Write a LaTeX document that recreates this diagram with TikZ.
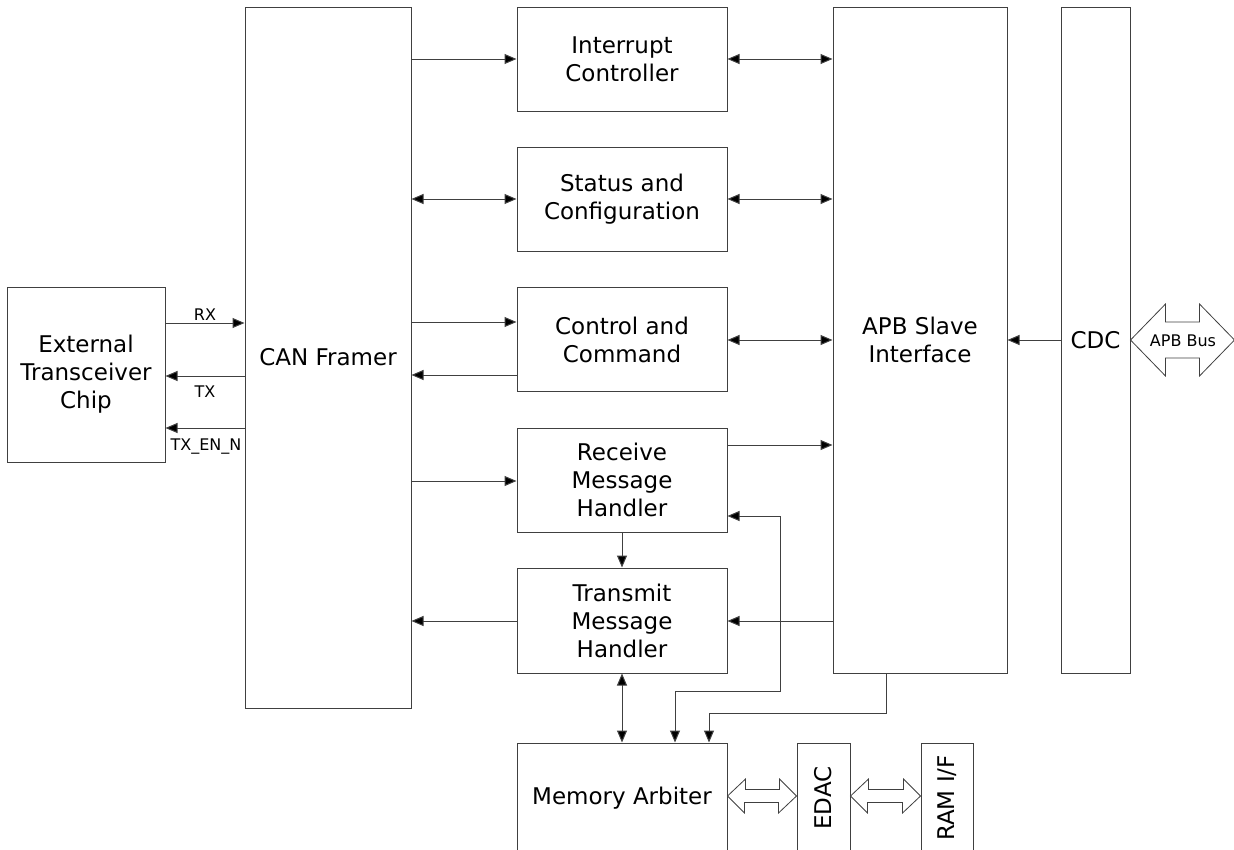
\documentclass[tikz,border=0pt]{standalone}
\usepackage{fontspec}
\setmainfont{DejaVu Sans}
\usetikzlibrary{arrows.meta,positioning,calc}

\begin{document}
\begin{tikzpicture}[x=1pt,y=-1pt,
    blk/.style={draw=black!75,line width=1pt,minimum width=210pt,minimum height=104pt,
      align=center,inner sep=0pt,font=\fontsize{23}{28}\selectfont},
    sig/.style={draw=black!75,line width=1pt,-{Triangle[length=12pt,width=10pt,fill=black]}},
    sig2/.style={sig,{Triangle[length=12pt,width=10pt,fill=black]}-{Triangle[length=12pt,width=10pt,fill=black]}},
    lbl/.style={font=\fontsize{16}{18}\selectfont,inner sep=2.5pt},
    fat/.style={draw=black!75,line width=0.8pt,fill=white}]
  \useasboundingbox (0,0) rectangle (1234,849);

  % blocks
  \node[blk,minimum width=158pt,minimum height=175pt] (ext) at (86,374.5) {External\\Transceiver\\Chip};
  \node[blk,minimum width=166pt,minimum height=701pt] (can) at (328,357.5) {CAN Framer};
  \node[blk] (intr) at (622,59) {Interrupt\\Controller};
  \node[blk] (stat) at (622,199) {Status and\\Configuration};
  \node[blk] (ctrl) at (622,339.5) {Control and\\Command};
  \node[blk] (recv) at (622,480) {Receive\\Message\\Handler};
  \node[blk,minimum height=105pt] (xmit) at (622,620.5) {Transmit\\Message\\Handler};
  \node[blk,minimum height=110pt] (marb) at (622,798) {Memory Arbiter};
  \node[blk,minimum width=174pt,minimum height=666pt] (apb) at (920,340) {APB Slave\\Interface};
  \node[blk,minimum width=69pt,minimum height=666pt] (cdc) at (1095.5,340) {CDC};
  \node[blk,minimum width=53pt,minimum height=110pt] (edac) at (823.5,798) {\rotatebox{90}{EDAC}};
  \node[blk,minimum width=52pt,minimum height=110pt] (ram) at (947,798) {\rotatebox{90}{RAM I/F}};

  % transceiver signals
  \draw[sig] (ext.east |- 0,323) -- node[lbl,above] {RX} (can.west |- 0,323);
  \draw[sig] (can.west |- 0,376) -- node[lbl,below,yshift=-7pt] {TX} (ext.east |- 0,376);
  \draw[sig] (can.west |- 0,428) -- node[lbl,below,xshift=1pt,yshift=-8pt] {TX\_EN\_N} (ext.east |- 0,428);

  % framer side
  \draw[sig] (can.east |- intr) -- (intr.west);
  \draw[sig2] (can.east |- stat) -- (stat.west);
  \draw[sig] (can.east |- 0,322) -- (ctrl.west |- 0,322);
  \draw[sig] (ctrl.west |- 0,375) -- (can.east |- 0,375);
  \draw[sig] (can.east |- 0,481) -- (recv.west |- 0,481);
  \draw[sig] (xmit.west |- 0,621) -- (can.east |- 0,621);

  % slave side
  \draw[sig2] (intr.east) -- (apb.west |- intr.east);
  \draw[sig2] (stat.east) -- (apb.west |- stat.east);
  \draw[sig2] (ctrl.east |- 0,340) -- (apb.west |- 0,340);
  \draw[sig] (recv.east |- 0,445) -- (apb.west |- 0,445);
  \draw[sig] (apb.west |- 0,621) -- (xmit.east |- 0,621);
  \draw[sig] (cdc.west) -- (apb.east |- cdc.west);

  % handlers and memory
  \draw[sig] (recv.south) -- (xmit.north);
  \draw[sig2] (xmit.south) -- (marb.north);
  \draw[sig2] (recv.east |- 0,516) -| (780,691) -| (marb.north -| 675,0);
  \draw[sig] (apb.south -| 886,0) |- (709,713) -- (marb.north -| 709,0);

  % wide buses
  \coordinate (busy) at (0,796);
  \draw[fat] (marb.east |- busy) -- ++(18,-17) -- ++(0,10.5) -- ++(34,0) -- ++(0,-10.5)
    -- (edac.west |- busy) -- ++(-18,17) -- ++(0,-10.5) -- ++(-34,0) -- ++(0,10.5) -- cycle;
  \draw[fat] (edac.east |- busy) -- ++(18,-17) -- ++(0,10.5) -- ++(35,0) -- ++(0,-10.5)
    -- (ram.west |- busy) -- ++(-18,17) -- ++(0,-10.5) -- ++(-35,0) -- ++(0,10.5) -- cycle;
  \draw[fat] (cdc.east) -- ++(35,-36) -- ++(0,18) -- ++(34,0) -- ++(0,-18) -- ++(35,36)
    -- ++(-35,36) -- ++(0,-18) -- ++(-34,0) -- ++(0,18) -- cycle;
  \node[lbl] (bus) at (1183,341) {APB Bus};
\end{tikzpicture}
\end{document}
